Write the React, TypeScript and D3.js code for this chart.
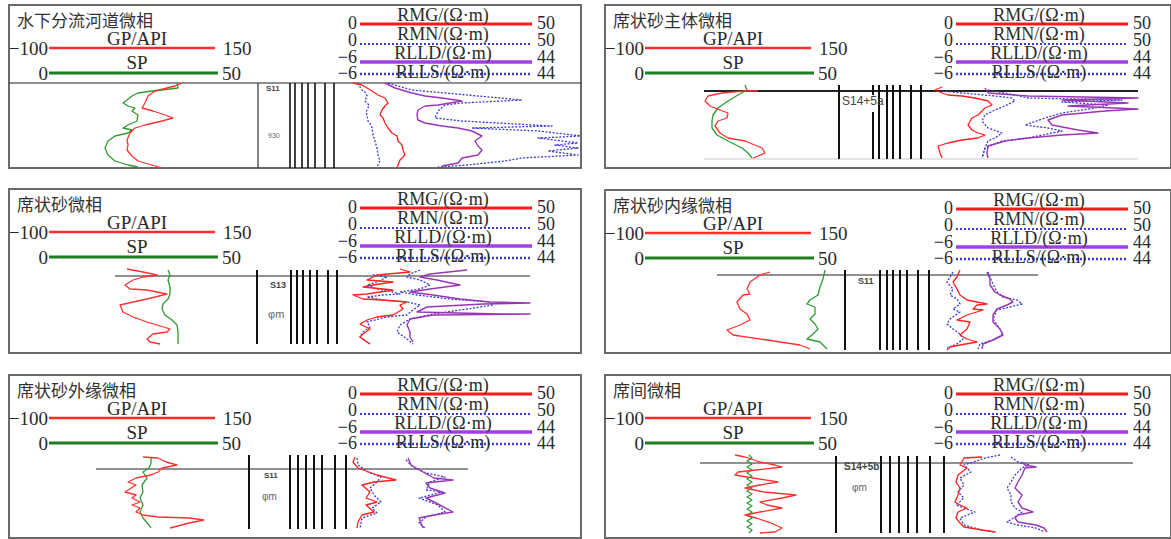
import React from 'react';
import * as d3 from 'd3';

type Pt = [number, number]; // [depth below marker, track value]

// ---------- titles & legend text ----------
const panelTitles = ['水下分流河道微相', '席状砂主体微相', '席状砂微相', '席状砂内缘微相', '席状砂外缘微相', '席间微相'];
const leftLegend = [
  { name: 'GP/API', min: '−100', max: '150', key: 'GR' },
  { name: 'SP', min: '0', max: '50', key: 'SP' },
];
const rightLegend = [
  { name: 'RMG/(Ω·m)', min: '0', max: '50', key: 'RMG' },
  { name: 'RMN/(Ω·m)', min: '0', max: '50', key: 'RMN' },
  { name: 'RLLD/(Ω·m)', min: '−6', max: '44', key: 'RLLD' },
  { name: 'RLLS/(Ω·m)', min: '−6', max: '44', key: 'RLLS' },
];
const layerNames = ['S11', 'S14+5a', 'S13', 'S11', 'S11', 'S14+5b'];

// ---------- lithology column offsets ----------
const colOffsets = [
  [0, 32, 37, 44, 50, 57, 67, 76],
  [0, 34, 40, 48, 54, 61, 72, 82],
  [0, 34, 40, 46, 53, 60, 71, 80],
  [0, 35, 42, 48, 55, 62, 73, 84],
  [0, 41, 49, 57, 65, 73, 86, 97],
  [0, 45, 54, 63, 72, 81, 94, 108],
];

// ---------- Panel 1 curves ----------
const p1GR: Pt[] = [[0,82],[3,75],[8,55],[13,48],[20,45],[25,42],[28,53],[32,65],[35,73],[38,62],[42,45],[45,35],[50,30],[57,27],[62,28],[67,27],[73,32],[78,38],[82,52],[85,62]];
const p1SP: Pt[] = [[0,77],[5,78],[7,62],[8,52],[10,38],[13,32],[20,23],[23,28],[25,35],[28,32],[32,38],[38,37],[42,28],[45,23],[47,32],[50,28],[53,15],[58,8],[65,5],[72,8],[78,15],[82,28],[84,38]];
const p1RMG: Pt[] = [[0,3],[2,12],[8,22],[12,28],[15,35],[20,38],[23,35],[27,32],[32,30],[35,33],[40,35],[45,38],[50,42],[53,47],[58,48],[62,52],[67,53],[72,55],[77,50],[82,48],[85,47]];
const p1RMN: Pt[] = [[0,8],[4,10],[7,12],[10,16],[13,17],[18,15],[22,19],[25,18],[29,16],[32,17],[38,18],[42,21],[45,22],[52,23],[58,25],[65,27],[72,28],[78,30],[84,27]];
const p1RLLD: Pt[] = [[0,35],[5,45],[10,62],[13,75],[15,92],[18,112],[22,88],[23,75],[27,68],[32,67],[37,68],[40,75],[43,92],[45,108],[48,122],[53,132],[58,125],[63,128],[67,132],[72,128],[75,112],[80,108],[83,92]];
const p1RLLS: Pt[] = [[0,38],[7,62],[10,95],[17,172],[20,112],[22,95],[28,88],[35,85],[38,112],[43,202],[45,122],[48,188],[53,232],[55,188],[60,228],[62,205],[65,228],[68,198],[72,228],[75,172],[78,155],[82,118],[84,88]];

// ---------- Panel 2 curves ----------
const p2GR: Pt[] = [[0,58],[0,45],[2,22],[5,8],[10,5],[15,10],[19,20],[22,28],[27,27],[30,18],[35,15],[42,20],[47,28],[50,45],[57,62],[62,65],[65,58],[67,53]];
const p2SP: Pt[] = [[-6,45],[-1,47],[4,38],[10,28],[17,18],[24,13],[30,12],[37,12],[44,17],[50,28],[57,42],[62,48],[67,52]];
const p2RMG: Pt[] = [[-4,12],[-1,5],[2,12],[4,18],[5,32],[7,45],[10,58],[14,62],[17,55],[20,52],[24,48],[27,42],[34,38],[39,42],[42,48],[44,55],[47,48],[49,32],[52,18],[55,8],[62,10],[67,12]];
const p2RMN: Pt[] = [[0,12],[2,32],[5,65],[7,82],[10,85],[15,75],[19,65],[24,55],[30,52],[37,58],[42,72],[47,65],[50,58],[57,55],[67,52]];
const p2RLLD: Pt[] = [[-3,55],[2,58],[5,98],[7,208],[9,132],[12,198],[15,138],[18,208],[20,175],[24,132],[29,118],[34,122],[39,148],[42,168],[44,132],[47,98],[50,75],[55,58],[62,57],[67,58]];
const p2RLLS: Pt[] = [[-1,58],[4,85],[7,98],[9,192],[11,132],[14,178],[17,165],[22,132],[27,115],[34,95],[37,118],[40,132],[47,98],[50,72],[57,55],[67,52]];

// ---------- Panel 3 curves ----------
const p3GR: Pt[] = [[-7,12],[-4,28],[-1,42],[1,28],[4,18],[9,10],[13,15],[14,32],[18,52],[23,32],[26,18],[29,5],[36,8],[41,18],[46,32],[49,42],[53,55],[56,52],[58,38],[63,32],[66,35],[68,45]];
const p3SP: Pt[] = [[-6,53],[-1,55],[4,53],[11,55],[18,55],[23,53],[28,48],[33,47],[39,50],[44,57],[49,62],[56,63],[68,63]];
const p3RMG: Pt[] = [[-7,50],[-4,60],[-1,27],[4,17],[6,43],[9,23],[11,13],[13,33],[14,43],[18,17],[19,3],[23,13],[24,33],[26,57],[29,50],[33,53],[39,43],[41,27],[44,17],[48,10],[53,20],[58,13],[61,10],[66,17],[68,20]];
const p3RMN: Pt[] = [[-1,23],[1,37],[6,27],[9,17],[13,27],[16,43],[18,50],[19,33],[21,17],[24,33],[26,57],[29,70],[34,63],[39,57],[41,37],[46,17],[51,20],[56,13],[61,10],[66,17],[68,20]];
const p3RLLD: Pt[] = [[-6,117],[-2,80],[1,70],[4,87],[9,110],[13,80],[16,60],[19,83],[23,110],[26,140],[27,180],[28,133],[31,77],[36,67],[38,150],[38,180],[39,83],[43,60],[49,57],[56,60],[61,60],[66,63]];
const p3RLLS: Pt[] = [[-6,70],[-2,60],[1,57],[4,70],[9,80],[13,70],[16,50],[19,67],[23,100],[26,140],[29,143],[33,117],[38,83],[43,60],[49,50],[56,47],[63,57],[68,63]];

// ---------- Panel 4 curves ----------
const p4GR: Pt[] = [[-3,53],[0,43],[7,33],[14,30],[19,33],[20,26],[27,20],[34,23],[39,30],[45,33],[50,23],[55,10],[60,16],[65,50],[70,83],[74,93]];
const p4SP: Pt[] = [[-5,108],[4,106],[12,103],[20,101],[25,93],[29,90],[32,98],[39,98],[44,93],[49,98],[54,101],[59,96],[64,90],[67,103],[70,106],[74,110]];
const p4RMG: Pt[] = [[-5,20],[2,17],[7,13],[14,17],[20,20],[25,27],[27,37],[29,47],[30,37],[34,33],[35,43],[40,27],[45,17],[47,30],[54,27],[60,20],[64,27],[67,37],[70,20],[72,10],[75,7]];
const p4RMN: Pt[] = [[-3,13],[2,10],[7,7],[14,13],[20,10],[24,17],[29,20],[34,13],[37,20],[44,10],[49,7],[54,13],[59,20],[64,23],[69,17],[73,7]];
const p4RLLD: Pt[] = [[-3,47],[4,50],[10,50],[17,55],[20,60],[24,70],[27,73],[30,67],[34,57],[40,53],[47,53],[54,60],[60,63],[65,53],[69,43],[74,42]];
const p4RLLS: Pt[] = [[-3,48],[7,52],[17,57],[22,63],[25,77],[29,82],[32,70],[35,57],[44,53],[50,57],[59,63],[65,53],[69,40],[74,38]];

// ---------- Panel 5 curves ----------
const p5GR: Pt[] = [[-12,47],[-11,62],[-7,70],[-4,81],[-1,66],[3,62],[6,55],[9,40],[13,32],[16,40],[23,29],[26,40],[29,36],[33,44],[36,36],[39,44],[43,40],[46,47],[48,62],[49,93],[51,108],[54,93],[58,78],[59,74]];
const p5SP: Pt[] = [[-12,55],[-6,55],[-1,53],[3,47],[9,51],[16,46],[23,47],[29,44],[36,47],[43,44],[49,47],[56,53],[59,55]];
const p5RMG: Pt[] = [[-12,5],[-7,3],[-1,8],[6,27],[11,46],[13,24],[16,12],[23,20],[29,16],[33,27],[36,16],[43,24],[46,12],[53,8],[59,7]];
const p5RMN: Pt[] = [[-11,7],[-4,8],[3,18],[8,31],[13,27],[19,20],[26,24],[33,31],[39,22],[44,27],[49,12],[59,10]];
const p5RLLD: Pt[] = [[-11,58],[-4,61],[3,73],[9,84],[11,103],[14,76],[19,80],[24,95],[29,76],[33,84],[43,103],[46,84],[49,69],[59,73]];
const p5RLLS: Pt[] = [[-9,56],[-2,63],[4,76],[8,95],[13,80],[21,76],[23,92],[29,69],[36,88],[43,95],[48,76],[54,69],[59,75]];

// ---------- Panel 6 curves ----------
const p6GR: Pt[] = [[-8,35],[-6,45],[-1,60],[2,75],[4,82],[7,56],[9,38],[12,35],[15,53],[19,78],[22,60],[25,45],[29,64],[32,96],[35,82],[39,60],[42,67],[45,82],[49,60],[52,45],[55,56],[60,71],[65,82],[69,75],[70,60]];
const p6SP: Pt[] = [[-8,49],[-5,52],[-2,47],[1,52],[4,47],[7,52],[10,47],[13,52],[16,47],[19,52],[22,47],[25,52],[28,47],[31,52],[34,47],[37,52],[40,47],[43,52],[46,47],[49,52],[52,47],[55,52],[58,47],[61,52],[64,47],[67,52],[70,49]];
const p6RMG: Pt[] = [[-6,32],[-5,14],[2,10],[5,17],[12,8],[19,6],[25,10],[32,8],[39,5],[42,10],[45,17],[49,8],[55,6],[60,10],[64,14],[67,32],[69,45]];
const p6RMN: Pt[] = [[-8,50],[-5,35],[2,14],[9,21],[15,10],[22,14],[29,8],[35,14],[42,6],[49,25],[55,10],[62,14],[67,32],[69,46]];
const p6RLLD: Pt[] = [[-1,72],[2,75],[4,86],[5,75],[12,72],[19,68],[25,65],[32,72],[39,68],[45,72],[49,83],[52,68],[55,65],[59,68],[62,86],[65,94],[69,97]];
const p6RLLS: Pt[] = [[-6,61],[-1,68],[2,79],[5,72],[12,65],[19,61],[25,57],[32,61],[39,61],[45,65],[49,72],[54,65],[59,57],[62,68],[65,86],[69,95]];

const curves = [
  { GR: p1GR, SP: p1SP, RMG: p1RMG, RMN: p1RMN, RLLD: p1RLLD, RLLS: p1RLLS },
  { GR: p2GR, SP: p2SP, RMG: p2RMG, RMN: p2RMN, RLLD: p2RLLD, RLLS: p2RLLS },
  { GR: p3GR, SP: p3SP, RMG: p3RMG, RMN: p3RMN, RLLD: p3RLLD, RLLS: p3RLLS },
  { GR: p4GR, SP: p4SP, RMG: p4RMG, RMN: p4RMN, RLLD: p4RLLD, RLLS: p4RLLS },
  { GR: p5GR, SP: p5SP, RMG: p5RMG, RMN: p5RMN, RLLD: p5RLLD, RLLS: p5RLLS },
  { GR: p6GR, SP: p6SP, RMG: p6RMG, RMN: p6RMN, RLLD: p6RLLD, RLLS: p6RLLS },
];

// ---------- layout (positions only) ----------
const layout = [
  { x: 9, y: 5, w: 572, h: 163, marker: 83, gr: 100, res: 350, span: [9, 581], colX: 258, colDepth: [0, 85], sPos: [266, 88], sSize: 8, extra: [{ t: '930', x: 268, y: 135, s: 7 }], bottomLine: null as null | number, gap: null as null | number[], markerW: 1.2 },
  { x: 605, y: 5, w: 566, h: 163, marker: 91, gr: 700, res: 930, span: [704, 1138], colX: 839, colDepth: [-6, 68], sPos: [842, 101], sSize: 12, extra: [], bottomLine: 68, gap: [4, 21], markerW: 2 },
  { x: 9, y: 189, w: 572, h: 164, marker: 276, gr: 115, res: 350, span: [115, 530], colX: 257, colDepth: [-6, 68], sPos: [270, 285], sSize: 9, extra: [{ t: 'φm', x: 268, y: 314, s: 11 }], bottomLine: null, gap: null, markerW: 1.2 },
  { x: 605, y: 190, w: 566, h: 163, marker: 275, gr: 717, res: 940, span: [717, 1038], colX: 845, colDepth: [-5, 75], sPos: [858, 281], sSize: 9, extra: [], bottomLine: null, gap: null, markerW: 1.2 },
  { x: 9, y: 375, w: 572, h: 163, marker: 469, gr: 96, res: 350, span: [96, 468], colX: 249, colDepth: [-14, 60], sPos: [264, 475], sSize: 8, extra: [{ t: 'φm', x: 262, y: 496, s: 10 }], bottomLine: null, gap: null, markerW: 1.2 },
  { x: 605, y: 375, w: 566, h: 163, marker: 463, gr: 700, res: 950, span: [700, 1133], colX: 836, colDepth: [-7, 70], sPos: [844, 466], sSize: 10, extra: [{ t: 'φm', x: 852, y: 487, s: 10 }], bottomLine: null, gap: null, markerW: 1.2 },
];

const style: Record<string, { stroke: string; w: number; dash?: string }> = {
  GR: { stroke: '#ff3030', w: 1.3 },
  SP: { stroke: '#2f9a2f', w: 1.3 },
  RMG: { stroke: '#ff2020', w: 1.3 },
  RMN: { stroke: '#3a3ad0', w: 1.3, dash: '2,1.6' },
  RLLD: { stroke: '#9a35b5', w: 1.4 },
  RLLS: { stroke: '#3a3ad0', w: 1.3, dash: '2,1.6' },
};
const legendStyle: Record<string, { stroke: string; w: number; dash?: string }> = {
  GR: { stroke: '#ff2a2a', w: 2.5 },
  SP: { stroke: '#1e7d1e', w: 3 },
  RMG: { stroke: '#ff1a1a', w: 3 },
  RMN: { stroke: '#3b3bdd', w: 2, dash: '2,2' },
  RLLD: { stroke: '#a23ee8', w: 3.5 },
  RLLS: { stroke: '#3b3bdd', w: 2.5, dash: '2,2' },
};

const serif = '"Liberation Serif", "Times New Roman", serif';
const txt = '#2a2a2a';

function Panel({ i }: { i: number }) {
  const L = layout[i];
  const C = curves[i];
  const y = d3.scaleLinear().domain([0, 100]).range([L.marker, L.marker + 100]);
  const xGR = d3.scaleLinear().domain([0, 100]).range([L.gr, L.gr + 100]);
  const xRes = d3.scaleLinear().domain([0, 100]).range([L.res, L.res + 100]);
  const xCol = d3.scaleLinear().domain([0, 100]).range([L.colX, L.colX + 100]);
  const mk = (sx: d3.ScaleLinear<number, number>) =>
    d3.line<Pt>().x((d) => sx(d[1])).y((d) => y(d[0]));
  const lineGR = mk(xGR);
  const lineRes = mk(xRes);
  const clipId = `clip${i}`;
  const X = L.x, T = L.y;
  const leftY = [43, 68];
  const leftLabY = [33, 57];
  const rightY = [19, 39, 57, 69];
  const rightLabY = [10, 29, 48, 67];
  const rightNumY = [18, 35, 52, 68];
  return (
    <g>
      <defs>
        <clipPath id={clipId}>
          <rect x={X} y={T} width={L.w} height={L.h} />
        </clipPath>
      </defs>
      <rect x={X} y={T} width={L.w} height={L.h} fill="white" stroke="#6a6a6a" strokeWidth={2} />
      <text x={X + 8} y={T + 14} dominantBaseline="central" fontFamily='"Noto Sans CJK SC", sans-serif' fontSize={17} fill="#333">{panelTitles[i]}</text>
      {leftLegend.map((lg, k) => (
        <g key={lg.key}>
          <text x={X + 128} y={T + leftLabY[k]} textAnchor="middle" dominantBaseline="central" fontFamily={serif} fontSize={19} fill={txt}>{lg.name}</text>
          <line x1={X + 40} x2={X + (k === 0 ? 206 : 209)} y1={T + leftY[k]} y2={T + leftY[k]} stroke={legendStyle[lg.key].stroke} strokeWidth={legendStyle[lg.key].w} />
          <text x={X + 39} y={T + leftY[k]} textAnchor="end" dominantBaseline="central" fontFamily={serif} fontSize={19} fill={txt}>{lg.min}</text>
          <text x={X + (k === 0 ? 214 : 213)} y={T + leftY[k]} dominantBaseline="central" fontFamily={serif} fontSize={19} fill={txt}>{lg.max}</text>
        </g>
      ))}
      {rightLegend.map((lg, k) => (
        <g key={lg.key}>
          <line x1={X + 351} x2={X + 523} y1={T + rightY[k]} y2={T + rightY[k]} stroke={legendStyle[lg.key].stroke} strokeWidth={legendStyle[lg.key].w} strokeDasharray={legendStyle[lg.key].dash} />
          <text x={X + 434} y={T + rightLabY[k]} textAnchor="middle" dominantBaseline="central" fontFamily={serif} fontSize={18} fill={txt}>{lg.name}</text>
          <text x={X + 348} y={T + rightNumY[k]} textAnchor="end" dominantBaseline="central" fontFamily={serif} fontSize={18} fill={txt}>{lg.min}</text>
          <text x={X + 528} y={T + rightNumY[k]} dominantBaseline="central" fontFamily={serif} fontSize={18} fill={txt}>{lg.max}</text>
        </g>
      ))}
      <g clipPath={`url(#${clipId})`}>
        <line x1={L.span[0]} x2={L.span[1]} y1={L.marker} y2={L.marker} stroke="#222" strokeWidth={L.markerW} />
        {L.bottomLine !== null && (
          <line x1={L.span[0]} x2={L.span[1]} y1={y(L.bottomLine)} y2={y(L.bottomLine)} stroke="#dcdcdc" strokeWidth={1.5} />
        )}
        {colOffsets[i].map((c, k) => {
          const cx = xCol(c);
          const sw = i === 0 ? (k === 0 ? 1.2 : 1.6) : 2;
          if (L.gap && k === 1) {
            return (
              <g key={k}>
                <line x1={cx} x2={cx} y1={y(L.colDepth[0])} y2={y(L.gap[0])} stroke="#111" strokeWidth={sw} />
                <line x1={cx} x2={cx} y1={y(L.gap[1])} y2={y(L.colDepth[1])} stroke="#111" strokeWidth={sw} />
              </g>
            );
          }
          return <line key={k} x1={cx} x2={cx} y1={y(L.colDepth[0])} y2={y(L.colDepth[1])} stroke={i === 0 && k === 0 ? '#333' : '#111'} strokeWidth={sw} />;
        })}
        <text x={L.sPos[0]} y={L.sPos[1]} dominantBaseline="central" fontFamily="'Liberation Sans', Arial, sans-serif" fontSize={L.sSize} fill="#444" fontWeight={i === 1 ? 400 : 600}>{layerNames[i]}</text>
        {L.extra.map((e, k) => (
          <text key={k} x={e.x} y={e.y} dominantBaseline="central" fontFamily="'Liberation Sans', sans-serif" fontSize={e.s} fill="#666">{e.t}</text>
        ))}
        {(['SP', 'GR'] as const).map((k) => (
          <path key={k} d={lineGR(C[k]) || ''} fill="none" stroke={style[k].stroke} strokeWidth={style[k].w} strokeLinejoin="round" />
        ))}
        {(['RLLS', 'RLLD', 'RMN', 'RMG'] as const).map((k) => (
          <path key={k} d={lineRes(C[k]) || ''} fill="none" stroke={style[k].stroke} strokeWidth={style[k].w} strokeDasharray={style[k].dash} strokeLinejoin="round" />
        ))}
      </g>
    </g>
  );
}

export default function App() {
  return (
    <svg width={1171} height={539} style={{ position: 'absolute', left: 0, top: 0, background: 'white' }}>
      <rect x={0} y={0} width={1171} height={539} fill="white" />
      {layout.map((_, i) => (
        <Panel key={i} i={i} />
      ))}
    </svg>
  );
}
